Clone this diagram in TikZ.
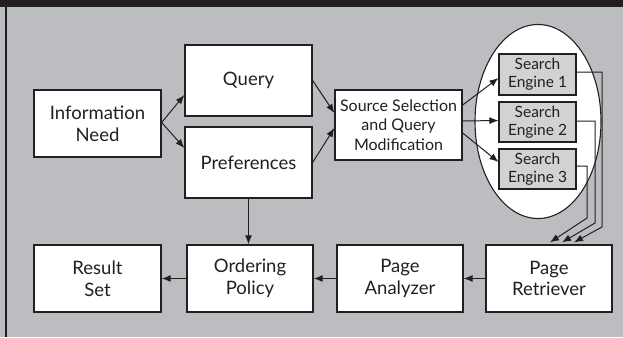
\documentclass[tikz,border=0pt]{standalone}
\usepackage{fontspec}
\setmainfont{Lato}
\usetikzlibrary{arrows.meta,calc,shapes.geometric}
\definecolor{ink}{HTML}{231F20}
\definecolor{panel}{HTML}{BCBDC0}
\definecolor{engfill}{HTML}{D1D2D4}
\tikzset{
  box/.style={draw=ink, line width=1.3pt, fill=white, minimum width=127pt,
    minimum height=67pt, inner sep=0pt, align=center, text=ink,
    font=\fontsize{18.5}{21.7}\selectfont},
  smallbox/.style={box, font=\fontsize{16}{19.5}\selectfont},
  engine/.style={draw=ink, line width=1.1pt, fill=engfill, minimum width=77pt,
    minimum height=40pt, inner sep=0pt, align=center, text=ink,
    font=\fontsize{15.5}{18.3}\selectfont},
  link/.style={draw=ink, line width=1pt, -{Latex[length=9pt,width=7pt]}},
}
\begin{document}
\begin{tikzpicture}[x=1pt, y=-1pt]
  % panel background, header band and left rule
  \fill[panel] (0,0) rectangle (623,337);
  \fill[ink] (0,0) rectangle (623,7);
  \fill[ink] (5,7) rectangle (7,337);
  \useasboundingbox (0,0) rectangle (623,337);

  % engine pool
  \node[draw=ink, line width=1.1pt, fill=white, ellipse, minimum width=126pt,
        minimum height=194pt, inner sep=0pt] (pool) at (538,121.5) {};

  % boxes
  \node[box] (info) at (97.5,123.5) {Information\\Need};
  \node[box, minimum height=71pt] (query) at (248.5,80.5) {Query};
  \node[box, minimum height=71pt] (pref) at (248.5,162.5) {Preferences};
  \node[smallbox, minimum height=70pt] (src) at (398.5,125) {Source Selection\\and Query\\Modification};
  \node[engine, minimum height=41pt] (se1) at (537.5,74.5) {Search\\Engine 1};
  \node[engine] (se2) at (537.5,122) {Search\\Engine 2};
  \node[engine] (se3) at (537.5,169) {Search\\Engine 3};
  \node[box] (result) at (97.5,278.5) {Result\\Set};
  \node[box, minimum width=126pt] (order) at (250,278.5) {Ordering\\Policy};
  \node[box, minimum width=126pt] (analyzer) at (400,278.5) {Page\\Analyzer};
  \node[box, minimum width=126pt] (retriever) at (549,278.5) {Page\\Retriever};

  % connectors
  \draw[link] ($(info.east)+(0,-1)$) -- ($(query.west)+(0,14.5)$);
  \draw[link] ($(info.east)+(0,-1)$) -- ($(pref.west)+(0,-14.5)$);
  \draw[link] (query.east) -- ($(src.west)+(0,-12)$);
  \draw[link] (pref.east) -- ($(src.west)+(0,3)$);
  \draw[link] ($(src.east)+(0,-20)$) -- ($(se1.west)+(0,3.5)$);
  \draw[link] ($(src.east)+(0,-4)$) -- ($(se2.west)+(0,-1.5)$);
  \draw[link] ($(src.east)+(0,8)$) -- ($(se3.west)+(0,-7)$);

  \coordinate (k1) at (602,227);
  \coordinate (k2) at (595,223);
  \coordinate (k3) at (587,218);
  \draw[link] ($(se1.east)+(0,-2.5)$) -| (k1) -- ($(retriever.north)+(25,-2)$);
  \draw[link] ($(se2.east)+(0,-1)$) -| (k2) -- ($(retriever.north)+(13,-2)$);
  \draw[link] ($(se3.east)+(0,-3)$) -| (k3) -- ($(retriever.north)+(1,-2)$);

  \draw[link] (pref.south) -- (pref.south |- order.north);
  \draw[link] (retriever.west) -- (analyzer.east);
  \draw[link] (analyzer.west) -- (order.east);
  \draw[link] (order.west) -- (result.east);
\end{tikzpicture}
\end{document}
